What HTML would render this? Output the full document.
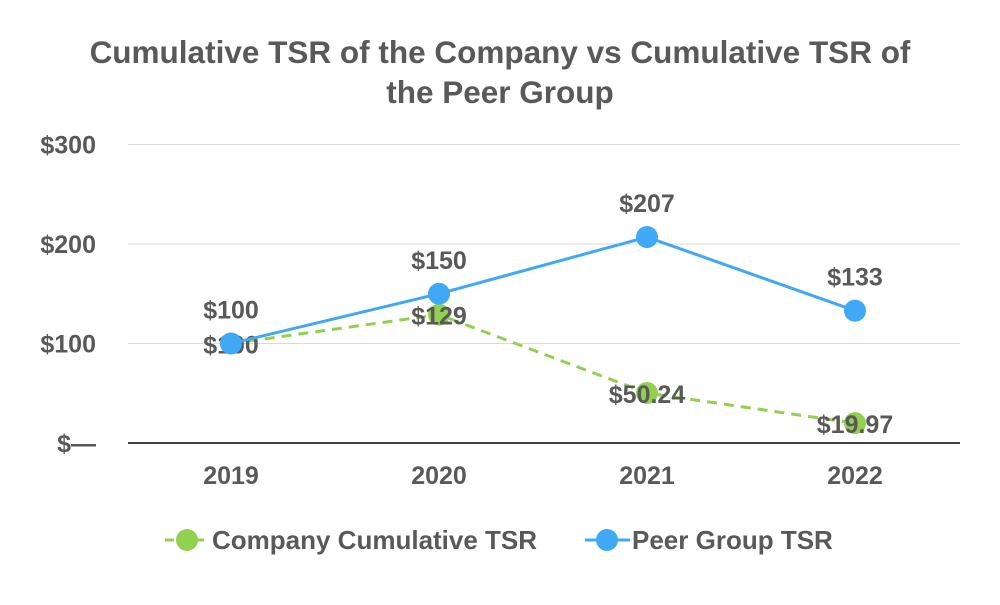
<!DOCTYPE html>
<html><head><meta charset="utf-8"><style>
body{margin:0;background:#fff}
svg text{font-family:"Liberation Sans",Arial,sans-serif;font-weight:bold;fill:#595959}
</style></head><body>
<svg width="1000" height="600">
<text x="500" y="63" text-anchor="middle" font-size="31.5">Cumulative TSR of the Company vs Cumulative TSR of</text>
<text x="500" y="103" text-anchor="middle" font-size="31.5">the Peer Group</text>
<g id="grid"></g><g id="axes"></g><g id="series"></g>
<g>
<g>
<line x1="165" y1="540" x2="210" y2="540" stroke="#92D050" stroke-width="3" stroke-dasharray="9,6"/>
<circle cx="187" cy="540" r="11" fill="#92D050"/>
<text x="212" y="549" font-size="26">Company Cumulative TSR</text></g>
<g>
<line x1="585" y1="540" x2="630" y2="540" stroke="#41A8F5" stroke-width="3"/>
<circle cx="607" cy="540" r="11" fill="#41A8F5"/>
<text x="632" y="549" font-size="26">Peer Group TSR</text></g>
</g>
</svg>
<script>
const categories=["2019","2020","2021","2022"];
const companyValues=[100,129,50.24,19.97];
const companyLabels=["$100","$129","$50.24","$19.97"];
const peerValues=[100,150,207,133];
const peerLabels=["$100","$150","$207","$133"];
const yTicks=[0,100,200,300];
const yTickLabels=["$—","$100","$200","$300"];
const NS="http://www.w3.org/2000/svg";
const X=i=>231+i*208, Y=v=>443-v*0.995;
function mk(tag,attrs,parent,txt){const e=document.createElementNS(NS,tag);for(const k in attrs)e.setAttribute(k,attrs[k]);if(txt!=null)e.textContent=txt;parent.appendChild(e);return e;}
const grid=document.getElementById('grid'),axes=document.getElementById('axes'),ser=document.getElementById('series');
yTicks.forEach((t,i)=>{
 const l=mk('line',{x1:128,x2:960,y1:Y(t),y2:Y(t),stroke:t===0?'#000':'#d9d9d9','stroke-width':t===0?1.5:1},grid);
 
 
 const tx=mk('text',{x:96,y:Y(t)+9,'text-anchor':'end','font-size':25},axes,yTickLabels[i]);
 
 
});
categories.forEach((c,i)=>{
 const tx=mk('text',{x:X(i),y:484,'text-anchor':'middle','font-size':25},axes,c);
 
 
});
function series(vals,labs,color,dash,name,labelDy){
 const p=mk('polyline',{points:vals.map((v,i)=>X(i)+','+Y(v)).join(' '),fill:'none',stroke:color,'stroke-width':3,'stroke-dasharray':dash},ser);
 
 
 vals.forEach((v,i)=>{
  const c=mk('circle',{cx:X(i),cy:Y(v),r:11,fill:color},ser);
  
  
 });
 vals.forEach((v,i)=>{
  const t=mk('text',{x:X(i),y:Y(v)+labelDy,'text-anchor':'middle','font-size':25},ser,labs[i]);
  
  
 });
}
series(companyValues,companyLabels,'#92D050','10,7','company',10);
series(peerValues,peerLabels,'#41A8F5','none','peer',-25);
</script>
</body></html>
